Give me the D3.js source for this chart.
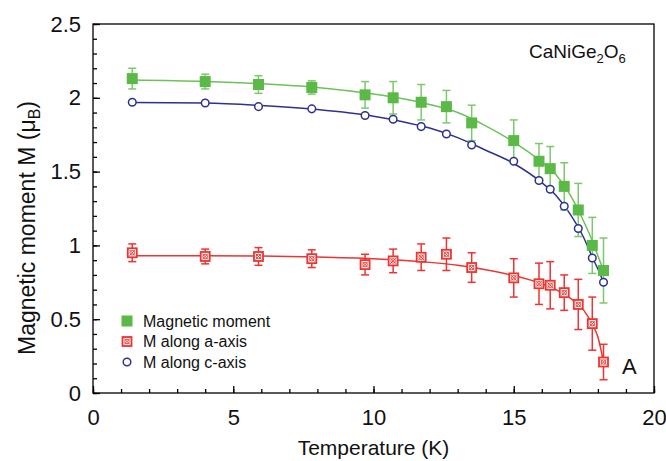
<!DOCTYPE html>
<html>
<head>
<meta charset="utf-8">
<script src="https://cdn.jsdelivr.net/npm/d3@7"></script>
<style>
  body { margin: 0; background: #fff; }
  svg { display: block; font-family: "Liberation Sans", Arial, sans-serif; }
  .axis path, .axis line { stroke: #000; stroke-width: 1.3; }
  .axis text { font-size: 22px; fill: #111; }
</style>
</head>
<body>
<div id="chart"></div>
<script>
// Measured temperatures (K), shared by the three series
const temps = [1.4, 4.0, 5.9, 7.8, 9.7, 10.7, 11.7, 12.6, 13.5, 15.0, 15.9, 16.3, 16.8, 17.3, 17.8, 18.2];

// Total ordered moment
const momentVals = [2.13, 2.11, 2.09, 2.07, 2.02, 2.00, 1.97, 1.94, 1.83, 1.71, 1.57, 1.52, 1.40, 1.24, 1.00, 0.83];
const momentErr  = [0.07, 0.05, 0.06, 0.045, 0.09, 0.11, 0.12, 0.11, 0.12, 0.14, 0.12, 0.15, 0.16, 0.18, 0.19, 0.22];

// Component along a
const aVals = [0.95, 0.925, 0.925, 0.91, 0.87, 0.895, 0.92, 0.94, 0.85, 0.78, 0.74, 0.73, 0.68, 0.60, 0.47, 0.21];
const aErr  = [0.06, 0.05, 0.06, 0.06, 0.07, 0.08, 0.09, 0.11, 0.10, 0.13, 0.14, 0.16, 0.12, 0.17, 0.18, 0.12];

// Component along c
const cVals = [1.97, 1.965, 1.94, 1.925, 1.88, 1.855, 1.805, 1.755, 1.68, 1.57, 1.44, 1.38, 1.265, 1.115, 0.915, 0.75];

// Fitted curves (sampled)
const fitT      = [1.4, 4, 6, 8, 10, 11, 12, 13, 14, 15, 16, 16.5, 17, 17.5, 17.8, 18, 18.2];
const fitMoment = [2.12, 2.11, 2.095, 2.07, 2.025, 1.995, 1.955, 1.90, 1.81, 1.70, 1.565, 1.48, 1.345, 1.16, 1.03, 0.93, 0.83];
const fitA      = [0.93, 0.93, 0.928, 0.922, 0.91, 0.90, 0.885, 0.865, 0.835, 0.795, 0.74, 0.70, 0.645, 0.56, 0.465, 0.38, 0.21];
const fitC      = [1.968, 1.965, 1.948, 1.92, 1.875, 1.84, 1.795, 1.73, 1.645, 1.555, 1.425, 1.34, 1.215, 1.05, 0.92, 0.84, 0.75];

const xTicks = [0, 5, 10, 15, 20];
const yTicks = [0, 0.5, 1, 1.5, 2, 2.5];

const width = 666, height = 461;
const green = "#5bb947", greenLine = "#6cc25a", greenBar = "#7cc96c";
const red = "#ec3430", blue = "#2e3192";

const svg = d3.select("#chart").append("svg")
    .attr("width", width)
    .attr("height", height);

const x = d3.scaleLinear().domain([0, 20]).range([93, 654]);
const y = d3.scaleLinear().domain([0, 2.5]).range([393, 24]);

// frame (top & right sides have no ticks)
svg.append("rect")
    .attr("x", x(0)).attr("y", y(2.5))
    .attr("width", x(20) - x(0)).attr("height", y(0) - y(2.5))
    .attr("fill", "none").attr("stroke", "#000").attr("stroke-width", 1.3);

// minor ticks
svg.append("g").attr("class", "axis")
    .attr("transform", `translate(0,${y(0)})`)
    .call(d3.axisBottom(x).tickValues(d3.range(0, 21, 1)).tickSize(-4).tickFormat(""))
    .call(g => g.select(".domain").remove());
svg.append("g").attr("class", "axis")
    .attr("transform", `translate(${x(0)},0)`)
    .call(d3.axisLeft(y).tickValues(d3.range(0, 26, 1).map(d => d / 10)).tickSize(-4).tickFormat(""))
    .call(g => g.select(".domain").remove());

// major ticks + labels
svg.append("g").attr("class", "axis")
    .attr("transform", `translate(0,${y(0)})`)
    .call(d3.axisBottom(x).tickValues(xTicks).tickSize(-7).tickPadding(16).tickFormat(d3.format("~g")))
    .call(g => g.select(".domain").remove());
svg.append("g").attr("class", "axis")
    .attr("transform", `translate(${x(0)},0)`)
    .call(d3.axisLeft(y).tickValues(yTicks).tickSize(-7).tickPadding(12).tickFormat(d3.format("~g")))
    .call(g => g.select(".domain").remove());

// axis titles
svg.append("text")
    .attr("x", (x(0) + x(20)) / 2).attr("y", 455)
    .attr("text-anchor", "middle")
    .style("font-size", "21px").style("fill", "#111")
    .text("Temperature (K)");

const yTitle = svg.append("text")
    .attr("transform", `translate(35,228) rotate(-90)`)
    .attr("text-anchor", "middle")
    .style("font-size", "23px").style("fill", "#111");
yTitle.append("tspan").text("Magnetic moment M (\u03bc");
yTitle.append("tspan").attr("dy", 5).style("font-size", "16px").text("B");
yTitle.append("tspan").attr("dy", -5).text(")");

// compound label
const formula = svg.append("text")
    .attr("x", 529).attr("y", 58)
    .style("font-size", "19px").style("fill", "#111");
formula.append("tspan").text("CaNiGe");
formula.append("tspan").attr("dy", 5).style("font-size", "13px").text("2");
formula.append("tspan").attr("dy", -5).text("O");
formula.append("tspan").attr("dy", 5).style("font-size", "13px").text("6");

svg.append("text")
    .attr("x", 622).attr("y", 374)
    .style("font-size", "22px").style("fill", "#111")
    .text("A");

const line = d3.line().curve(d3.curveMonotoneX);
const fitLine = vals => line(fitT.map((t, i) => [x(t), y(vals[i])]));

const plot = svg.append("g");

plot.append("path").attr("d", fitLine(fitA))
    .attr("fill", "none").attr("stroke", red).attr("stroke-width", 1.5);
plot.append("path").attr("d", fitLine(fitMoment))
    .attr("fill", "none").attr("stroke", greenLine).attr("stroke-width", 1.5);
plot.append("path").attr("d", fitLine(fitC))
    .attr("fill", "none").attr("stroke", blue).attr("stroke-width", 1.5);

function errorBars(vals, errs, color) {
    const g = plot.append("g").attr("stroke", color).attr("stroke-width", 1.5);
    temps.forEach((t, i) => {
        const cx = x(t), y0 = y(vals[i] - errs[i]), y1 = y(vals[i] + errs[i]);
        g.append("line").attr("x1", cx).attr("x2", cx).attr("y1", y0).attr("y2", y1);
        g.append("line").attr("x1", cx - 4).attr("x2", cx + 4).attr("y1", y0).attr("y2", y0);
        g.append("line").attr("x1", cx - 4).attr("x2", cx + 4).attr("y1", y1).attr("y2", y1);
    });
}
errorBars(momentVals, momentErr, greenBar);
errorBars(aVals, aErr, red);

function greenSquare(g, cx, cy) {
    g.append("rect")
        .attr("x", cx - 5.5).attr("y", cy - 5.5)
        .attr("width", 11).attr("height", 11)
        .attr("fill", green);
}
function redMarker(g, cx, cy) {
    const m = g.append("g").attr("stroke", red).attr("fill", "none");
    m.append("rect")
        .attr("x", cx - 4.5).attr("y", cy - 4.5)
        .attr("width", 9).attr("height", 9)
        .attr("fill", "#fff").attr("stroke-width", 1.8);
    m.append("circle").attr("cx", cx).attr("cy", cy).attr("r", 2.3).attr("stroke-width", 0.9);
    m.append("line").attr("x1", cx - 3).attr("x2", cx + 3).attr("y1", cy - 3).attr("y2", cy + 3).attr("stroke-width", 0.9);
    m.append("line").attr("x1", cx - 3).attr("x2", cx + 3).attr("y1", cy + 3).attr("y2", cy - 3).attr("stroke-width", 0.9);
}
function blueCircle(g, cx, cy) {
    g.append("circle")
        .attr("cx", cx).attr("cy", cy).attr("r", 3.8)
        .attr("fill", "#fff").attr("stroke", blue).attr("stroke-width", 1.5);
}

temps.forEach((t, i) => greenSquare(plot, x(t), y(momentVals[i])));
temps.forEach((t, i) => redMarker(plot, x(t), y(aVals[i])));
temps.forEach((t, i) => blueCircle(plot, x(t), y(cVals[i])));

// legend
const legend = svg.append("g");
const legendItems = [
    { label: "Magnetic moment", draw: greenSquare },
    { label: "M along a-axis", draw: redMarker },
    { label: "M along c-axis", draw: blueCircle }
];
legendItems.forEach((d, i) => {
    const cy = 321 + i * 20.5;
    d.draw(legend, 127, cy);
    legend.append("text")
        .attr("x", 143).attr("y", cy + 5.5)
        .style("font-size", "16px").style("fill", "#111")
        .text(d.label);
});
</script>
</body>
</html>
